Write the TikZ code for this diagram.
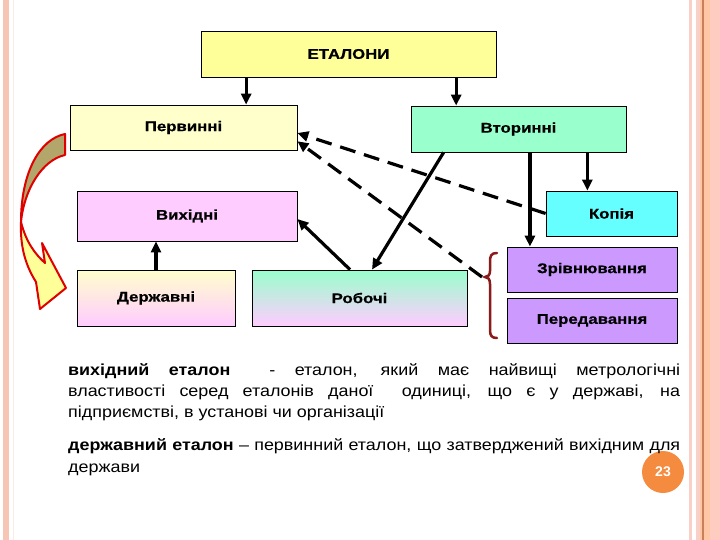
\documentclass[tikz,border=0pt]{standalone}
\usepackage{fontspec}
\setmainfont{Liberation Sans}
\newfontfamily\boxfont[FakeStretch=1.2,FakeBold=0.6]{Liberation Sans}
\newfontfamily\bodyfont[FakeStretch=1.12]{Liberation Sans}
\usetikzlibrary{arrows.meta,calc}
\definecolor{cEt}{HTML}{FFFF99}
\definecolor{cPerv}{HTML}{FFFFCC}
\definecolor{cVtor}{HTML}{99FFCC}
\definecolor{cVyh}{HTML}{FFCCFF}
\definecolor{cKop}{HTML}{66FFFF}
\definecolor{cPurp}{HTML}{CC99FF}
\definecolor{cBrace}{HTML}{8B1A1A}
\definecolor{cKhaki}{HTML}{B2A66A}
\definecolor{cYel}{HTML}{FFFF99}
\definecolor{cRed}{HTML}{E00000}
\definecolor{cOrange}{HTML}{F58B3E}
\definecolor{fA}{HTML}{F6C5B4}
\definecolor{fB}{HTML}{FCEBE4}
\definecolor{fC}{HTML}{F8D0C8}
\definecolor{fD}{HTML}{C8805A}
\definecolor{fE}{HTML}{FFC6A6}
\definecolor{fF}{HTML}{FFCCC2}
\begin{document}
\begin{tikzpicture}[x=1pt,y=-1pt,
  box/.style={draw=black, line width=0.8pt, inner sep=0pt,
    font=\boxfont\bfseries\fontsize{14}{16}\selectfont},
  arr/.style={line width=3.2pt, -{Triangle[length=11pt,width=10pt]}},
  dsh/.style={arr, dash pattern=on 16pt off 9pt},
  body/.style={anchor=base west, inner sep=0pt, font=\bodyfont\fontsize{16}{19}\selectfont}]
\useasboundingbox (0,0) rectangle (720,540);
\fill[white] (0,0) rectangle (720,540);
% slide frame
\fill[fA] (3,0) rectangle (9,540);
\fill[fB] (12.5,0) rectangle (13.5,540);
\fill[fC] (689,0) rectangle (692,540);
\fill[fC] (696,0) rectangle (700,540);
\fill[fE] (700,0) rectangle (702,540);
\fill[fD] (702,0) rectangle (703.5,540);
\fill[fE] (703.5,0) rectangle (710,540);
\fill[fF] (710,0) rectangle (720,540);
% boxes
\node[box, fill=cEt, minimum width=295pt, minimum height=46pt] (et) at (348.5,54) {ЕТАЛОНИ};
\node[box, fill=cPerv, minimum width=227pt, minimum height=45pt] (perv) at (183.5,127.5) {Первинні};
\node[box, fill=cVtor, minimum width=215pt, minimum height=46pt] (vtor) at (518.5,129) {Вторинні};
\node[box, fill=cVyh, minimum width=220pt, minimum height=50pt] (vyh) at (187,216) {Вихідні};
\node[box, fill=cKop, minimum width=131pt, minimum height=45pt] (kop) at (611.5,213.5) {Копія};
\node[box, fill=cPurp, minimum width=170pt, minimum height=45pt] (zriv) at (592,269.5) {Зрівнювання};
\node[box, fill=cPurp, minimum width=170pt, minimum height=45pt] (pered) at (592,320.5) {Передавання};
\node[box, top color=cPerv, bottom color=cVyh, minimum width=158pt, minimum height=56pt] (derzh) at (156,298) {Державні};
\node[box, top color=cVtor, bottom color=cVyh, minimum width=215pt, minimum height=56pt] (rob) at (359.5,298) {Робочі};
% solid arrows
\coordinate (a1) at ($(et.south west)!0.154!(et.south east)$);
\draw[arr] (a1) -- (a1 |- perv.north);
\coordinate (a2) at ($(et.south west)!0.864!(et.south east)$);
\draw[arr] (a2) -- (a2 |- vtor.north);
\coordinate (a3) at ($(vtor.south west)!0.153!(vtor.south east)$);
\coordinate (a3e) at ($(rob.north west)!0.558!(rob.north east)$);
\draw[arr] (a3) -- (a3e);
\coordinate (a4) at ($(rob.north west)!0.456!(rob.north east)$);
\coordinate (a4e) at ($(vyh.north east)!0.56!(vyh.south east)$);
\draw[arr] (a4) -- (a4e);
\draw[arr] (derzh.north) -- (derzh.north |- vyh.south);
\coordinate (a5) at ($(vtor.south west)!0.553!(vtor.south east)$);
\draw[arr] (a5) -- (a5 |- zriv.north);
\coordinate (a6) at ($(vtor.south west)!0.819!(vtor.south east)$);
\draw[arr] (a6) -- (a6 |- kop.north);
% brace
\draw[cBrace, line width=2.5pt, line cap=round]
  (497,253) .. controls (491,253) and (490,256) .. (490,262) -- (490,271)
  .. controls (490,275) and (488,277) .. (485,277)
  .. controls (488,277) and (490,279) .. (490,284) -- (490,330)
  .. controls (490,336) and (492,338) .. (497,338);
\coordinate (bt) at (482,277);
% dashed arrows
\coordinate (d1e) at ($(perv.north east)!0.62!(perv.south east)$);
\draw[dsh] (kop.west) -- (d1e);
\coordinate (d2e) at ($(perv.north east)!0.8!(perv.south east)$);
\draw[dsh] (bt) -- (d2e);
% curved block arrow
\filldraw[draw=cRed, line width=2pt, fill=cKhaki, line join=round]
  (65,134) .. controls (40,139) and (21,172) .. (21,222)
  .. controls (24,190) and (42,160) .. (65,155) -- cycle;
\filldraw[draw=cRed, line width=2pt, fill=cYel, line join=round]
  (21,222) .. controls (20,248) and (26,266) .. (36,282) -- (40,309) -- (66,288)
  -- (42,243) -- (45,263) .. controls (35,254) and (26,242) .. (21,222) -- cycle;
% page number
\node[circle, fill=cOrange, minimum size=42pt, inner sep=0pt, text=white,
  font=\bfseries\fontsize{14}{16}\selectfont] (pg) at (663,472) {23};
% body text
\node[body] (t1) at (68,375.5) {\makebox[612pt][s]{\textbf{вихідний еталон}\ \ - еталон, який має найвищі метрологічні}};
\node[body] (t2) at (68,396.5) {\makebox[612pt][s]{властивості серед еталонів даної\ \ одиниці, що є у державі, на}};
\node[body] (t3) at (68,417) {підприємстві, в установі чи організації};
\node[body] (t4) at (68,450.5) {\makebox[612pt][s]{\textbf{державний еталон} – первинний еталон, що затверджений вихідним для}};
\node[body] (t5) at (68,472) {держави};
\end{tikzpicture}
\end{document}
